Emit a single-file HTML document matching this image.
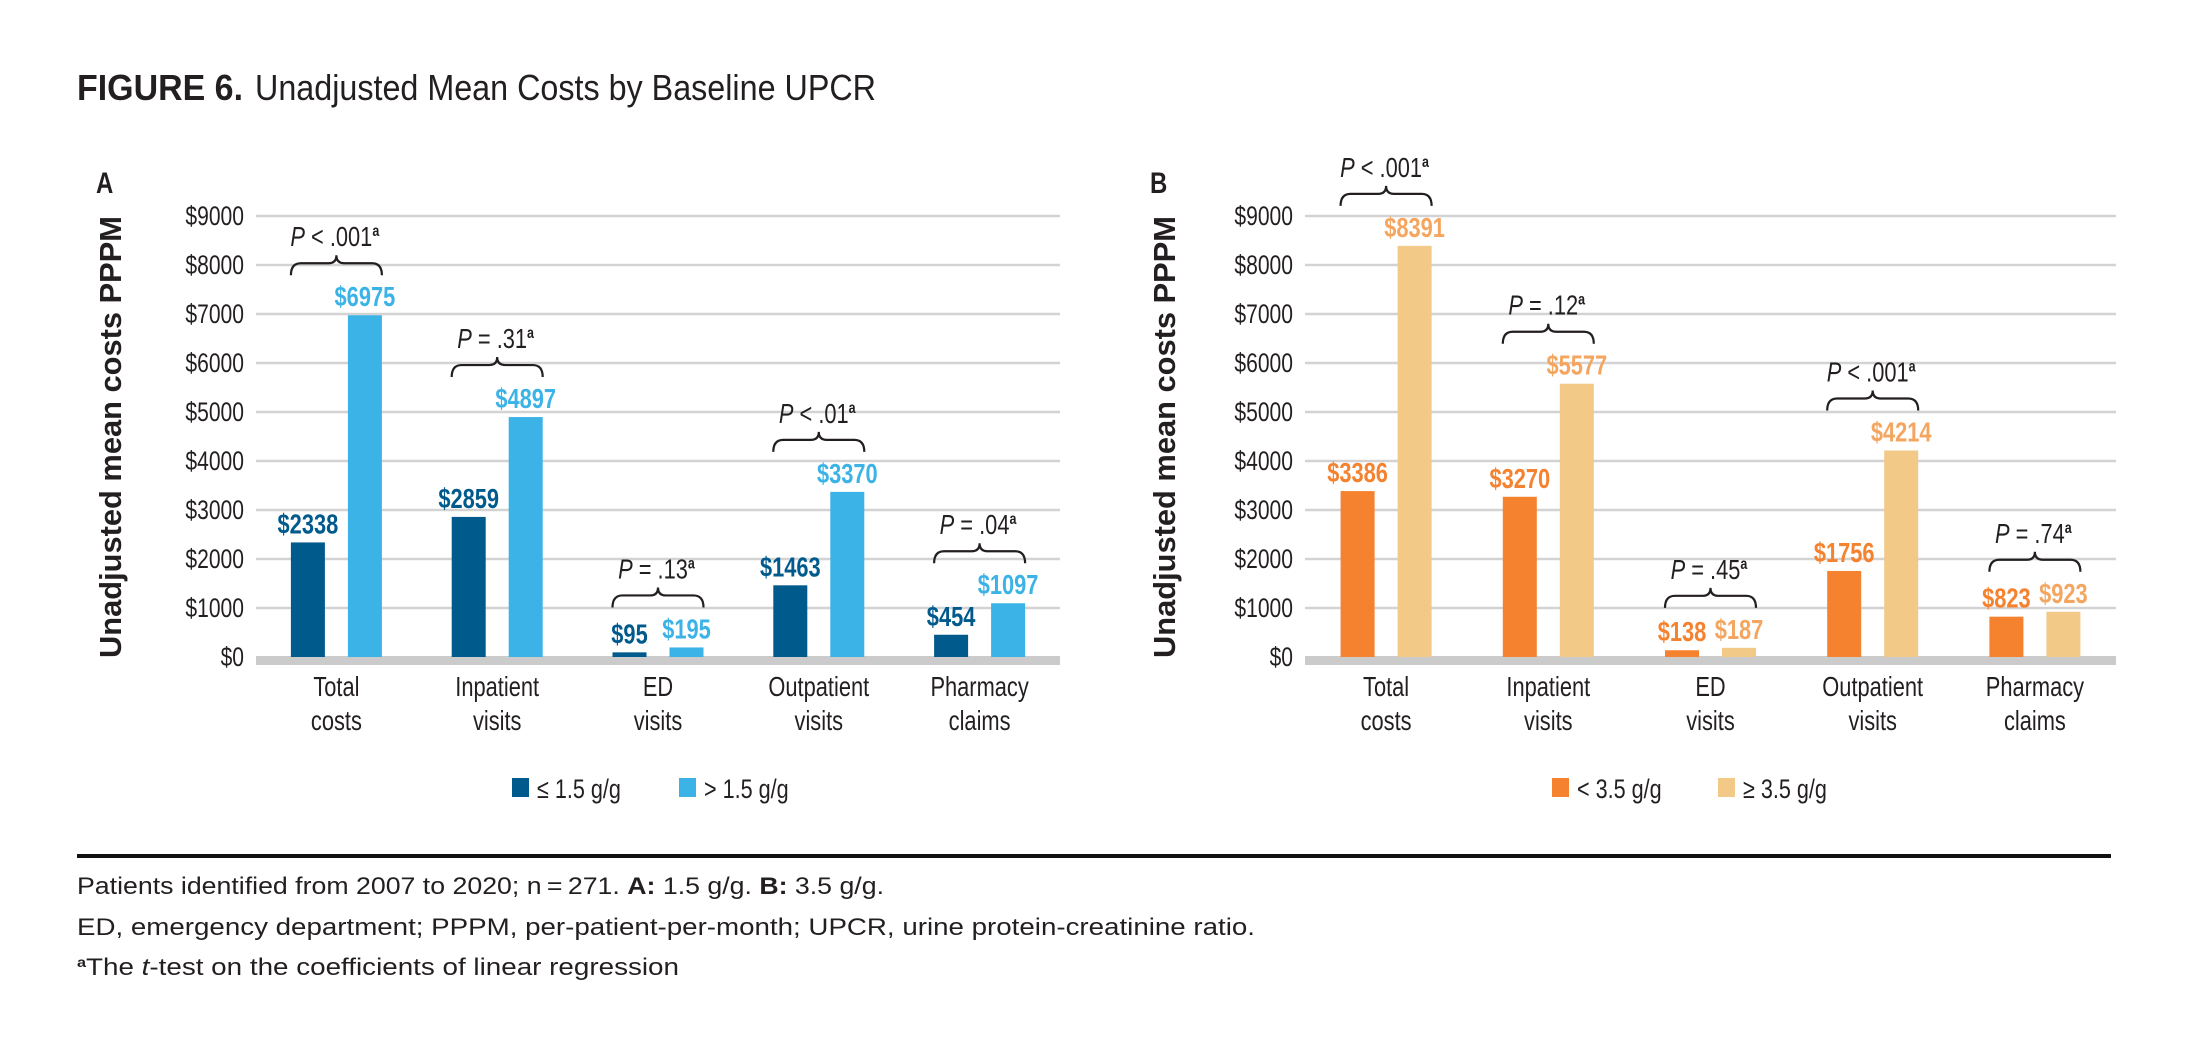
<!DOCTYPE html>
<html><head><meta charset="utf-8">
<style>
html,body{margin:0;padding:0;background:#fff;}
svg{display:block;}
</style></head>
<body>
<svg id="fig" width="2187" height="1052" viewBox="0 0 2187 1052" xmlns="http://www.w3.org/2000/svg"></svg>
<script>
const categories = [["Total","costs"],["Inpatient","visits"],["ED","visits"],["Outpatient","visits"],["Pharmacy","claims"]];
const seriesA1 = [2338, 2859, 95, 1463, 454];
const seriesA2 = [6975, 4897, 195, 3370, 1097];
const seriesB1 = [3386, 3270, 138, 1756, 823];
const seriesB2 = [8391, 5577, 187, 4214, 923];
const pA = [["<",".001"],["=",".31"],["=",".13"],["<",".01"],["=",".04"]];
const pB = [["<",".001"],["=",".12"],["=",".45"],["<",".001"],["=",".74"]];
const yTicks = [0,1000,2000,3000,4000,5000,6000,7000,8000,9000];
const legendA = ["\u2264 1.5 g/g", "> 1.5 g/g"];
const legendB = ["< 3.5 g/g", "\u2265 3.5 g/g"];

const NS = "http://www.w3.org/2000/svg";
const svg = document.getElementById('fig');
const cv = document.createElement('canvas').getContext('2d');
function mk(tag, attrs, parent){
  const e = document.createElementNS(NS, tag);
  for (const k in attrs) e.setAttribute(k, attrs[k]);
  (parent||svg).appendChild(e);
  return e;
}
function measure(str, size, weight, style){
  cv.font = (style||'normal')+' '+(weight||'normal')+' '+size+'px "Liberation Sans"';
  return cv.measureText(str).width;
}
function txt(x, y, str, size, o){
  o = o||{};
  const e = mk('text', {x:x, y:y, 'font-family':'"Liberation Sans", sans-serif', 'font-size':size,
    'font-weight':o.weight||'normal', fill:o.fill||'#231f20', 'text-anchor':o.anchor||'start'}, o.parent);
  if (o.style) e.setAttribute('font-style', o.style);
  e.textContent = str;
  const c = o.cond===undefined ? 0.8 : o.cond;
  if (c !== 1) {
    e.setAttribute('textLength', (measure(str,size,o.weight,o.style)*c).toFixed(1));
    e.setAttribute('lengthAdjust','spacingAndGlyphs');
  }
  return e;
}

// Title
let t1 = txt(77, 100, "FIGURE 6.", 36, {weight:'bold', cond:1});
t1.setAttribute('textLength', 166);
t1.setAttribute('lengthAdjust','spacingAndGlyphs');


let t2 = txt(255, 100, "Unadjusted Mean Costs by Baseline UPCR", 36, {cond:1});
t2.setAttribute('textLength', 621);
t2.setAttribute('lengthAdjust','spacingAndGlyphs');



function panel(cfg){
  const g = mk('g', {});
  
  
  const L = cfg.left, R = cfg.right, y0 = 657, y9 = 216;
  const yScale = v => y0 - (v/9000)*(y0-y9);
  const gw = (R-L)/categories.length;
  const xCenter = i => L + gw*(i+0.5);
  const bw = 34, off = 28.5;

  yTicks.forEach(v=>{
    if (v>0){
      const l = mk('line',{x1:L,x2:R,y1:yScale(v),y2:yScale(v),stroke:'#d3d3d3','stroke-width':2.5},g);
      
      
    }
    const tk = txt(L-12, yScale(v)+9, '$'+v, 27, {anchor:'end', cond:0.78, parent:g});
    
    
  });
  const base = mk('rect',{x:L,y:y0-1,width:R-L,height:9,fill:'#cbcbcb'},g);
  
  

  const pl = txt(cfg.letterX, 193, cfg.letter, 30, {weight:'bold', cond:0.8, parent:g});
  
  
  const yt = txt(0, 0, "Unadjusted mean costs PPPM", 31, {weight:'bold', anchor:'middle', cond:1, parent:g});
  yt.setAttribute('transform','translate('+(cfg.letterX+25)+',437) rotate(-90)');
  yt.setAttribute('textLength', 442);
  yt.setAttribute('lengthAdjust','spacingAndGlyphs');
  
  

  categories.forEach((cat,i)=>{
    const cx = xCenter(i);
    const v1 = cfg.s1[i], v2 = cfg.s2[i];
    const b1 = mk('rect',{x:cx-off-bw/2,y:yScale(v1),width:bw,height:y0-yScale(v1),fill:cfg.c1},g);
    
    
    const b2 = mk('rect',{x:cx+off-bw/2,y:yScale(v2),width:bw,height:y0-yScale(v2),fill:cfg.c2},g);
    
    
    const l1 = txt(cx-off, yScale(v1)-9, '$'+v1, 28, {weight:'bold', anchor:'middle', fill:cfg.l1, cond:0.78, parent:g});
    
    
    const l2 = txt(cx+off, yScale(v2)-9, '$'+v2, 28, {weight:'bold', anchor:'middle', fill:cfg.l2, cond:0.78, parent:g});
    
    

    const top = Math.min(yScale(v1), yScale(v2));
    const by = top - 52;
    const x1 = cx-off-bw/2, x2 = cx+off+bw/2;
    const br = mk('path',{d:'M'+x1+','+(by+12)+' Q'+x1+','+by+' '+(x1+10)+','+by+' L'+(cx-8)+','+by+' Q'+cx+','+by+' '+cx+','+(by-8)+' Q'+cx+','+by+' '+(cx+8)+','+by+' L'+(x2-10)+','+by+' Q'+x2+','+by+' '+x2+','+(by+12),
      fill:'none',stroke:'#231f20','stroke-width':2.2},g);
    
    
    const p = cfg.p[i];
    const pt = mk('text',{x:cx-2,y:by-17,'font-family':'"Liberation Sans", sans-serif','font-size':28,fill:'#231f20','text-anchor':'middle'},g);
    
    
    const ts1 = mk('tspan',{'font-style':'italic'},pt); ts1.textContent='P';
    const ts2 = mk('tspan',{},pt); ts2.textContent=' '+p[0]+' '+p[1];
    const ts3 = mk('tspan',{'font-size':16,dy:-10,'font-weight':'bold'},pt); ts3.textContent='a';
    pt.setAttribute('transform','translate('+(cx*(1-0.78))+',0) scale(0.78,1)');

    cat.forEach((w,k)=>{
      const ct = txt(cx, 696+k*34, w, 28, {anchor:'middle', cond:0.78, parent:g});
      
      
    });
  });

  const lg = mk('g',{},g);
  
  
  [[cfg.lgX[0],cfg.c1,cfg.legend[0]],[cfg.lgX[1],cfg.c2,cfg.legend[1]]].forEach(([x,c,s])=>{
    const sw = mk('rect',{x:x,y:778,width:17,height:19,fill:c},lg);
    
    
    const lt = txt(x+25, 798, s, 27, {cond:0.8, parent:lg});
    
    
  });
}

panel({name:'panel-a', short:'a', left:256, right:1060, letter:'A', letterX:96, s1:seriesA1, s2:seriesA2, p:pA,
  c1:'#005a8c', c2:'#3bb3e6', l1:'#005a8c', l2:'#3bb3e6', legend:legendA, lgX:[512,679]});
panel({name:'panel-b', short:'b', left:1305, right:2116, letter:'B', letterX:1150, s1:seriesB1, s2:seriesB2, p:pB,
  c1:'#f5822f', c2:'#f2c987', l1:'#f5822f', l2:'#f4a660', legend:legendB, lgX:[1552,1718]});

const rule = mk('rect',{x:77,y:854,width:2034,height:4,fill:'#111'});



const f1 = mk('text',{x:77,y:894,'font-family':'"Liberation Sans", sans-serif','font-size':24,fill:'#231f20',textLength:807,lengthAdjust:'spacingAndGlyphs'});


f1.innerHTML = 'Patients identified from 2007 to 2020; n\u2009=\u2009271. <tspan font-weight="bold">A:</tspan> 1.5 g/g. <tspan font-weight="bold">B:</tspan> 3.5 g/g.';
const f2 = txt(77, 935, "ED, emergency department; PPPM, per-patient-per-month; UPCR, urine protein-creatinine ratio.", 24, {cond:1});
f2.setAttribute('textLength', 1178);
f2.setAttribute('lengthAdjust','spacingAndGlyphs');


const f3 = mk('text',{x:77,y:975,'font-family':'"Liberation Sans", sans-serif','font-size':24,fill:'#231f20',textLength:602,lengthAdjust:'spacingAndGlyphs'});


f3.innerHTML = '<tspan font-size="14" dy="-8" font-weight="bold">a</tspan><tspan dy="8">The </tspan><tspan font-style="italic">t</tspan>-test on the coefficients of linear regression';
</script>
</body></html>
